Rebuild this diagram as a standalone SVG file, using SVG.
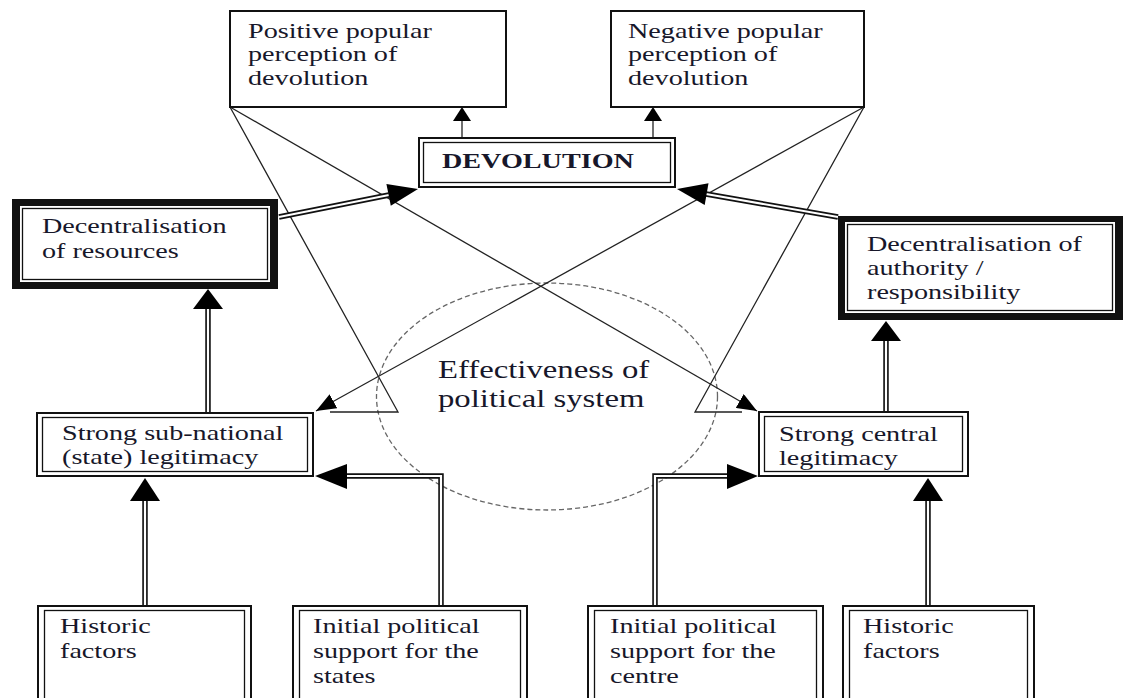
<svg xmlns="http://www.w3.org/2000/svg" width="1123" height="698" viewBox="0 0 1123 698">
  <style>
    .lbl { font-family: "Liberation Serif", "Times New Roman", serif; font-size: 21.5px; fill: #17172a; }
    .big { font-size: 25px; }
    .bold { font-weight: bold; }
    .box { fill: #fff; stroke: #111; stroke-width: 2; }
    .inner { fill: none; stroke: #111; stroke-width: 1.3; }
    .frame { fill: #111; fill-rule: evenodd; stroke: none; }
    .thin { fill: none; stroke: #222; stroke-width: 1.3; }
    .dbl-o { fill: none; stroke: #111; stroke-width: 5.5; stroke-linejoin: miter; }
    .dbl-i { fill: none; stroke: #fff; stroke-width: 2.2; stroke-linejoin: miter; }
    .head { fill: #000; }
    .dash { fill: none; stroke: #666; stroke-width: 1.3; stroke-dasharray: 5 3; }
  </style>
  <defs>
    <marker id="tip" viewBox="0 0 20 16" refX="20" refY="8" markerWidth="20" markerHeight="16" markerUnits="userSpaceOnUse" orient="auto">
      <path d="M0,0 L20,8 L0,16 Z" fill="#000"/>
    </marker>
  </defs>

  <rect width="1123" height="698" fill="#fff"/>

  <!-- central ellipse node -->
  <g id="effectiveness">
    <ellipse class="dash" cx="547" cy="396.5" rx="170.5" ry="113.5"/>
    <text class="lbl big" transform="translate(438,378) scale(1.31,1)">
      <tspan x="0" dy="0">Effectiveness of</tspan>
      <tspan x="0" dy="29">political system</tspan>
    </text>
  </g>

  <!-- connectors -->
  <g id="connectors">
    <!-- perception lines crossing through the centre -->
    <path class="thin" d="M230,107 L398,412 L330,412"/>
    <path class="thin" d="M864,107 L695,412 L742,412"/>
    <path class="thin" d="M230,107 L757,411" marker-end="url(#tip)"/>
    <path class="thin" d="M864,107 L316,411" marker-end="url(#tip)"/>

    <!-- devolution to perceptions -->
    <path class="thin" d="M462,138 V120"/>
    <polygon class="head" points="462,107 471,121 453,121"/>
    <path class="thin" d="M653,138 V120"/>
    <polygon class="head" points="653,107 662,121 644,121"/>

    <!-- decentralisation boxes to devolution -->
    <path class="dbl-o" d="M279,217 L389,195"/>
    <path class="dbl-i" d="M279,217 L389,195"/>
    <polygon class="head" points="418,189 390.8,205.7 386.4,184.1"/>
    <path class="dbl-o" d="M838,217 L706,194"/>
    <path class="dbl-i" d="M838,217 L706,194"/>
    <polygon class="head" points="677,189 708.5,183.3 704.7,204.9"/>

    <!-- legitimacy to decentralisation -->
    <path class="dbl-o" d="M208,413 V308"/>
    <path class="dbl-i" d="M208,413 V308"/>
    <polygon class="head" points="208,289 223,309 193,309"/>
    <path class="dbl-o" d="M886,412 V339"/>
    <path class="dbl-i" d="M886,412 V339"/>
    <polygon class="head" points="886,321 901,341 871,341"/>

    <!-- historic factors to legitimacy -->
    <path class="dbl-o" d="M145,606 V499"/>
    <path class="dbl-i" d="M145,606 V499"/>
    <polygon class="head" points="145,478 160,501 130,501"/>
    <path class="dbl-o" d="M928,606 V499"/>
    <path class="dbl-i" d="M928,606 V499"/>
    <polygon class="head" points="928,478 943,501 913,501"/>

    <!-- initial political support to legitimacy -->
    <path class="dbl-o" d="M441,606 V476 H346"/>
    <path class="dbl-i" d="M441,606 V476 H346"/>
    <polygon class="head" points="315,476 347,464 347,489"/>
    <path class="dbl-o" d="M655,606 V476 H728"/>
    <path class="dbl-i" d="M655,606 V476 H728"/>
    <polygon class="head" points="758,476 727,464 727,489"/>
  </g>

  <!-- perception boxes -->
  <g id="positive-perception">
    <rect class="box" x="230" y="11" width="276" height="96"/>
    <text class="lbl" transform="translate(248,38) scale(1.31,1)">
      <tspan x="0" dy="0">Positive popular</tspan>
      <tspan x="0" dy="23.5">perception of</tspan>
      <tspan x="0" dy="23.5">devolution</tspan>
    </text>
  </g>
  <g id="negative-perception">
    <rect class="box" x="611" y="11" width="253" height="96"/>
    <text class="lbl" transform="translate(628,38) scale(1.31,1)">
      <tspan x="0" dy="0">Negative popular</tspan>
      <tspan x="0" dy="23.5">perception of</tspan>
      <tspan x="0" dy="23.5">devolution</tspan>
    </text>
  </g>

  <!-- devolution -->
  <g id="devolution">
    <rect class="box" x="419" y="138" width="256" height="49"/>
    <rect class="inner" x="423.5" y="142.5" width="247" height="40"/>
    <text class="lbl bold" transform="translate(442,168) scale(1.31,1)">DEVOLUTION</text>
  </g>

  <!-- decentralisation of resources -->
  <g id="decentralisation-resources">
    <rect x="12" y="199" width="266" height="90" fill="#fff"/>
    <path class="frame" d="M12,199 H278 V289 H12 Z M20,206 V282 H270 V206 Z"/>
    <rect class="inner" x="22.5" y="208.5" width="245" height="71"/>
    <text class="lbl" transform="translate(42,233) scale(1.31,1)">
      <tspan x="0" dy="0">Decentralisation</tspan>
      <tspan x="0" dy="25">of resources</tspan>
    </text>
  </g>

  <!-- decentralisation of authority -->
  <g id="decentralisation-authority">
    <rect x="838" y="216" width="285" height="104" fill="#fff"/>
    <path class="frame" d="M838,216 H1123 V320 H838 Z M845,222 V313 H1115 V222 Z"/>
    <rect class="inner" x="847.5" y="224.5" width="265" height="86"/>
    <text class="lbl" transform="translate(867,251) scale(1.31,1)">
      <tspan x="0" dy="0">Decentralisation of</tspan>
      <tspan x="0" dy="24">authority /</tspan>
      <tspan x="0" dy="24">responsibility</tspan>
    </text>
  </g>

  <!-- legitimacy boxes -->
  <g id="subnational-legitimacy">
    <rect class="box" x="37" y="413" width="276" height="63"/>
    <rect class="inner" x="42.5" y="417.5" width="265" height="54"/>
    <text class="lbl" transform="translate(62,440) scale(1.31,1)">
      <tspan x="0" dy="0">Strong sub-national</tspan>
      <tspan x="0" dy="24">(state) legitimacy</tspan>
    </text>
  </g>
  <g id="central-legitimacy">
    <rect class="box" x="759" y="412" width="209" height="64"/>
    <rect class="inner" x="764.5" y="416.5" width="198" height="55"/>
    <text class="lbl" transform="translate(779,441) scale(1.31,1)">
      <tspan x="0" dy="0">Strong central</tspan>
      <tspan x="0" dy="24">legitimacy</tspan>
    </text>
  </g>

  <!-- bottom factor boxes -->
  <g id="historic-left">
    <rect class="box" x="38" y="606" width="213" height="110"/>
    <rect class="inner" x="44.5" y="610.5" width="200" height="110"/>
    <text class="lbl" transform="translate(60,633) scale(1.31,1)">
      <tspan x="0" dy="0">Historic</tspan>
      <tspan x="0" dy="25">factors</tspan>
    </text>
  </g>
  <g id="support-states">
    <rect class="box" x="293" y="606" width="234" height="110"/>
    <rect class="inner" x="299.5" y="610.5" width="221" height="110"/>
    <text class="lbl" transform="translate(313,633) scale(1.31,1)">
      <tspan x="0" dy="0">Initial political</tspan>
      <tspan x="0" dy="25">support for the</tspan>
      <tspan x="0" dy="25">states</tspan>
    </text>
  </g>
  <g id="support-centre">
    <rect class="box" x="588" y="606" width="235" height="110"/>
    <rect class="inner" x="594.5" y="610.5" width="222" height="110"/>
    <text class="lbl" transform="translate(610,633) scale(1.31,1)">
      <tspan x="0" dy="0">Initial political</tspan>
      <tspan x="0" dy="25">support for the</tspan>
      <tspan x="0" dy="25">centre</tspan>
    </text>
  </g>
  <g id="historic-right">
    <rect class="box" x="843" y="606" width="191" height="110"/>
    <rect class="inner" x="849.5" y="610.5" width="178" height="110"/>
    <text class="lbl" transform="translate(863,633) scale(1.31,1)">
      <tspan x="0" dy="0">Historic</tspan>
      <tspan x="0" dy="25">factors</tspan>
    </text>
  </g>
</svg>
